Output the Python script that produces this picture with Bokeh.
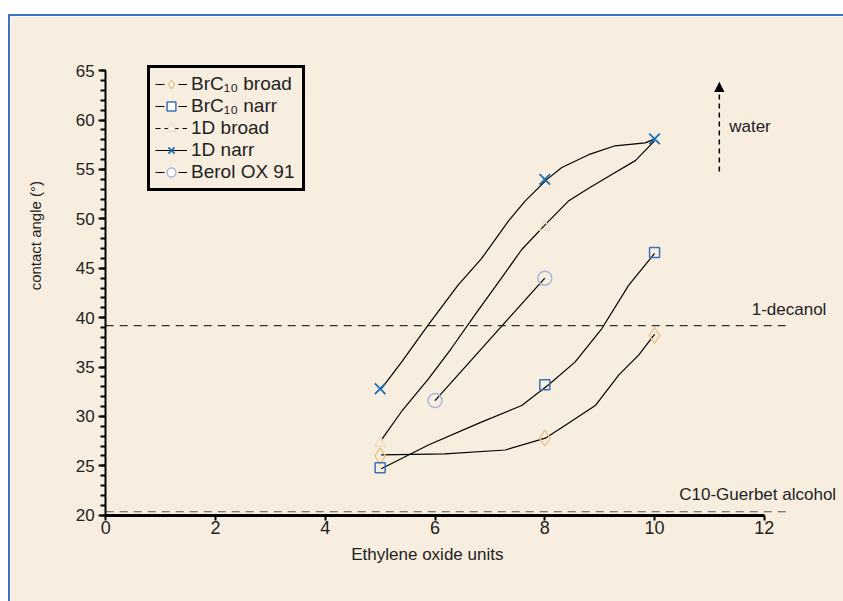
import math
from bokeh.plotting import figure
from bokeh.models import (Range1d, SingleIntervalTicker, Legend, LegendItem, Label,
                          Arrow, NormalHead, Spacer)
from bokeh.layouts import column, row
from bokeh.embed import file_html
from bokeh.resources import INLINE

# ---------------- data ----------------
eo = [5, 8, 10]
brc10_broad = [26.0, 27.8, 38.2]
brc10_narr = [24.8, 33.2, 46.6]
d1_broad = [27.3, 49.2, 58.1]
d1_narr = [32.8, 54.0, 58.1]
berol_eo = [6, 8]
berol = [31.6, 44.0]

# traced curves
c_d1n_x = [5.02, 5.39, 5.88, 6.42, 6.85, 7.34, 7.64, 8.04, 8.31, 8.80, 9.28, 9.83, 10.0]
c_d1n_y = [32.8, 35.5, 39.3, 43.3, 46.0, 49.8, 51.8, 54.0, 55.2, 56.5, 57.4, 57.7, 58.1]
c_d1b_x = [5.02, 5.39, 5.88, 6.30, 6.73, 7.21, 7.58, 8.04, 8.43, 8.80, 9.22, 9.65, 10.0]
c_d1b_y = [27.6, 30.5, 33.8, 36.9, 40.3, 44.0, 46.9, 49.6, 51.8, 53.1, 54.5, 55.9, 57.9]
c_bn_x = [5.02, 5.88, 6.79, 7.58, 8.07, 8.55, 9.04, 9.53, 10.0]
c_bn_y = [24.7, 27.1, 29.3, 31.1, 33.2, 35.5, 38.9, 43.3, 46.5]
c_bb_x = [5.02, 6.18, 7.28, 8.01, 8.43, 8.92, 9.35, 9.71, 10.0]
c_bb_y = [26.1, 26.2, 26.6, 27.8, 29.3, 31.1, 34.2, 36.2, 38.3]

ref_x = [0, 12.42]
decanol = 39.2
guerbet = 20.35

x_ticks = [0, 2, 4, 6, 8, 10, 12]

BG = "#f8eee0"
FONT = "Liberation Sans"
TXT = "#222222"

p = figure(width=835, height=587, output_backend="svg", toolbar_location=None,
           x_range=Range1d(-1.735, 13.479), y_range=Range1d(11.06, 70.49),
           min_border=0, background_fill_color=BG, border_fill_color=BG)
p.outline_line_color = None
p.grid.visible = False
p.styles = {"border-top": "2px solid #3b73c2", "border-left": "2px solid #3b73c2",
            "box-sizing": "border-box"}

# axes (drawn at fixed data positions)
xa = p.xaxis[0]
xa.fixed_location = 20
xa.ticker = x_ticks
xa.bounds = (0, 12)
xa.axis_line_width = 3
xa.major_tick_line_width = 2
xa.major_tick_out = 5
xa.major_tick_in = 0
xa.minor_tick_line_color = None
xa.major_label_text_font = FONT
xa.major_label_text_font_size = "18px"
xa.major_label_text_color = TXT
xa.major_label_standoff = 1

ya = p.yaxis[0]
ya.fixed_location = 0
ya.ticker = SingleIntervalTicker(interval=5, num_minor_ticks=5)
ya.bounds = (20, 65)
ya.axis_line_width = 2
ya.major_tick_line_width = 2
ya.major_tick_out = 7
ya.major_tick_in = 0
ya.minor_tick_line_width = 2
ya.minor_tick_out = 5
ya.minor_tick_in = 0
ya.major_label_text_font = FONT
ya.major_label_text_font_size = "17px"
ya.major_label_text_color = TXT
ya.major_label_standoff = 4

# reference lines
p.line(ref_x, [decanol, decanol], line_color="#333333", line_width=1.2, line_dash="8 6")
p.line(ref_x, [guerbet, guerbet], line_color="#555555", line_width=1.2, line_dash="8 6")

# curves
for cx, cy in [(c_d1n_x, c_d1n_y), (c_d1b_x, c_d1b_y), (c_bn_x, c_bn_y), (c_bb_x, c_bb_y),
               (berol_eo, berol)]:
    p.line(cx, cy, line_color="black", line_width=1.2)

# markers
p.scatter(eo, brc10_broad, marker="diamond", size=16, line_color="#e6c68e",
          fill_color=None, line_width=1.5)
p.scatter(eo, brc10_narr, marker="square", size=10, line_color="#3d72b8",
          fill_color=None, line_width=1.5)
p.scatter(eo[:2], d1_broad[:2], marker="triangle", size=11, line_color="#f0dcc0",
          fill_color=None, line_width=1.5)
p.scatter(eo, d1_narr, marker="x", size=15, line_color="#1a6fb4", line_width=1.8)
p.scatter(berol_eo, berol, marker="circle", size=14, line_color="#a9b6df",
          fill_color=None, line_width=1.5)

# legend dummy renderers
nan = [float("nan")]
l_bb = p.line(nan, nan, line_color="black", line_width=1, line_dash="9 14")
l_bn = p.line(nan, nan, line_color="black", line_width=1, line_dash="9 14")
l_d1b = p.line(nan, nan, line_color="black", line_width=1, line_dash="5 4")
l_d1n = p.line(nan, nan, line_color="black", line_width=1)
l_be = p.line(nan, nan, line_color="black", line_width=1, line_dash="9 14")
m_bb = p.scatter(nan, nan, marker="diamond", line_color="#e6c68e", fill_color="white", line_width=1.5)
m_bn = p.scatter(nan, nan, marker="square", line_color="#3d72b8", fill_color="white", line_width=1.5)
m_d1b = p.scatter(nan, nan, marker="triangle", line_color="#f0dcc0", fill_color="white", line_width=1.5)
m_d1n = p.scatter(nan, nan, marker="x", line_color="#1a6fb4", line_width=1.8)
m_be = p.scatter(nan, nan, marker="circle", line_color="#a9b6df", fill_color="white", line_width=1.5)

legend = Legend(items=[
    LegendItem(label="BrC\u2081\u2080 broad", renderers=[l_bb, m_bb]),
    LegendItem(label="BrC\u2081\u2080 narr", renderers=[l_bn, m_bn]),
    LegendItem(label="1D broad", renderers=[l_d1b, m_d1b]),
    LegendItem(label="1D narr", renderers=[l_d1n, m_d1n]),
    LegendItem(label="Berol OX 91", renderers=[l_be, m_be]),
], location=(137, 412))
legend.border_line_color = "black"
legend.border_line_alpha = 1
legend.border_line_width = 3
legend.background_fill_color = BG
legend.background_fill_alpha = 1
legend.label_text_font = FONT
legend.label_text_font_size = "19px"
legend.label_text_color = TXT
legend.glyph_width = 32
legend.glyph_height = 22
legend.label_height = 20
legend.label_width = 106
legend.label_standoff = 4
legend.spacing = 0
legend.padding = 5
legend.margin = 0
p.add_layout(legend, "center")

# annotations
p.add_layout(Label(x=11.77, y=40.8, text="1-decanol", text_font=FONT, text_font_size="17px",
                   text_color=TXT, text_baseline="middle"))
p.add_layout(Label(x=10.45, y=22.1, text="C10-Guerbet alcohol", text_font=FONT,
                   text_font_size="17px", text_color=TXT, text_baseline="middle"))
p.add_layout(Label(x=11.36, y=59.4, text="water", text_font=FONT, text_font_size="17px",
                   text_color=TXT, text_baseline="middle"))
p.add_layout(Arrow(x_start=11.18, y_start=54.8, x_end=11.18, y_end=64.0,
                   line_color="black", line_width=1.5, line_dash="5 4",
                   end=NormalHead(size=12, fill_color="black", line_color="white", line_width=1)))

# axis titles
p.add_layout(Label(x=5.86, y=16.04, text="Ethylene oxide units", text_font=FONT,
                   text_font_size="17px", text_color=TXT, text_align="center",
                   text_baseline="middle"))
p.add_layout(Label(x=-1.28, y=48.3, text="contact angle (\u00b0)", text_font=FONT,
                   text_font_size="15px", text_color=TXT, text_align="center",
                   text_baseline="middle", angle=math.pi / 2))

layout = column(Spacer(width=843, height=14),
                row(Spacer(width=8, height=587), p, spacing=0), spacing=0)
open("out.html", "w").write(file_html(layout, INLINE))
